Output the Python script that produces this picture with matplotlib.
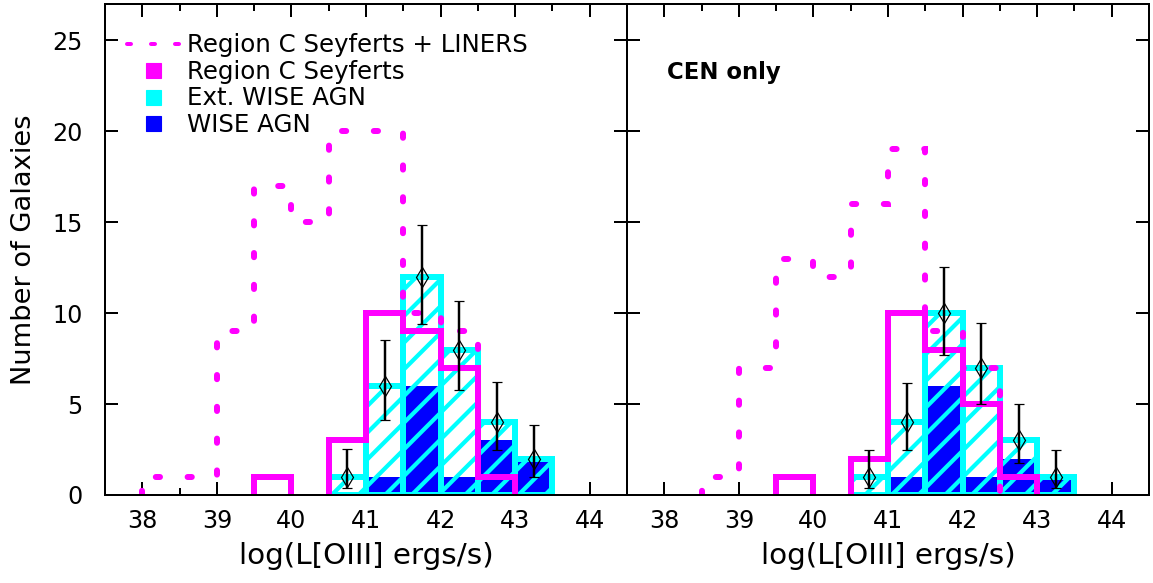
import numpy as np
import matplotlib
matplotlib.use("Agg")
import matplotlib.pyplot as plt
from matplotlib.lines import Line2D
from matplotlib.ticker import MultipleLocator

# luminosity bins, 0.5 dex wide
edges = np.arange(38.0, 44.01, 0.5)

# all galaxies (left panel)
liners_all = [1, 1, 9, 17, 15, 20, 20, 10, 9, 0, 0, 0]
sey_all = [0, 0, 0, 1, 0, 3, 10, 9, 7, 1, 0, 0]
ext_all = [0, 0, 0, 0, 0, 1, 6, 12, 8, 4, 2, 0]
wise_all = [0, 0, 0, 0, 0, 0, 1, 6, 1, 3, 2, 0]
err_lo_all = [0, 0, 0, 0, 0, 0.63, 1.90, 2.57, 2.21, 1.52, 0.99, 0]
err_hi_all = [0, 0, 0, 0, 0, 1.53, 2.51, 2.84, 2.68, 2.23, 1.86, 0]

# centrals only (right panel)
liners_cen = [0, 1, 7, 13, 12, 16, 19, 9, 7, 0, 0, 0]
sey_cen = [0, 0, 0, 1, 0, 2, 10, 8, 5, 1, 0, 0]
ext_cen = [0, 0, 0, 0, 0, 1, 4, 10, 7, 3, 1, 0]
wise_cen = [0, 0, 0, 0, 0, 0, 1, 6, 1, 2, 1, 0]
err_lo_cen = [0, 0, 0, 0, 0, 0.60, 1.52, 2.31, 2.00, 1.25, 0.60, 0]
err_hi_cen = [0, 0, 0, 0, 0, 1.48, 2.16, 2.56, 2.45, 2.00, 1.48, 0]

legend_labels = ["Region C Seyferts + LINERS", "Region C Seyferts",
                 "Ext. WISE AGN", "WISE AGN"]

MAG = "#ff00ff"
CYAN = "#00ffff"
BLUE = "#0000ff"

plt.rcParams["font.family"] = "DejaVu Sans"
plt.rcParams["hatch.linewidth"] = 3.8
plt.rcParams["hatch.color"] = CYAN

DPI = 80
W, H = 1153, 583
fig = plt.figure(figsize=(W / DPI, H / DPI), dpi=DPI)
fig.patch.set_facecolor("white")

ax1 = fig.add_axes([105 / W, 88 / H, 522 / W, 491 / H])
ax2 = fig.add_axes([627 / W, 88 / H, 522 / W, 491 / H])


def panel(ax, liners, sey, ext, wise, lo, hi):
    liners = np.asarray(liners, float)
    sey = np.asarray(sey, float)
    ext = np.asarray(ext, float)
    wise = np.asarray(wise, float)
    lo = np.asarray(lo, float)
    hi = np.asarray(hi, float)
    left = edges[:-1]

    m = wise > 0
    ax.bar(left[m], wise[m], width=0.5, align="edge", color=BLUE, lw=0, zorder=1)
    m = ext > 0
    ax.bar(left[m], ext[m], width=0.5, align="edge", facecolor="none",
           edgecolor=CYAN, hatch="/", lw=5.4, zorder=2)

    s = ax.stairs(np.where(sey > 0, sey, np.nan), edges, fill=False,
                  edgecolor=MAG, lw=5.4, zorder=3)
    s.set_joinstyle("miter")

    d = ax.stairs(np.where(liners > 0, liners, np.nan), edges, fill=False,
                  edgecolor=MAG, lw=5.4, linestyle=(0, (0.7, 4.6)), zorder=4)
    d.set_capstyle("round")

    cen = left + 0.25
    ax.errorbar(cen[m], ext[m], yerr=[lo[m], hi[m]], fmt="d", mfc="none",
                mec="black", mew=1.1, ms=13, ecolor="black", elinewidth=2.2,
                capsize=4.8, capthick=2.2, zorder=6)

    ax.set_xlim(37.5, 44.5)
    ax.set_ylim(0, 27)
    ax.set_xticks(range(38, 45))
    ax.xaxis.set_minor_locator(MultipleLocator(0.5))
    ax.set_yticks(range(0, 26, 5))
    ax.tick_params(which="both", direction="in", top=True, right=True,
                   width=1.8, labelsize=21.5)
    ax.tick_params(which="major", length=11.7)
    ax.tick_params(which="minor", length=6.3)
    ax.tick_params(axis="x", pad=13)
    ax.tick_params(axis="y", pad=20)
    for sp in ax.spines.values():
        sp.set_linewidth(1.8)
        sp.set_zorder(10)
    ax.set_xlabel("log(L[OIII] ergs/s)", fontsize=26.5)
    ax.xaxis.set_label_coords(0.5, -0.095)
    ax.xaxis.label.set_va("top")


panel(ax1, liners_all, sey_all, ext_all, wise_all, err_lo_all, err_hi_all)
panel(ax2, liners_cen, sey_cen, ext_cen, wise_cen, err_lo_cen, err_hi_cen)

ax1.set_ylabel("Number of Galaxies", fontsize=24.5)
ax1.yaxis.set_label_coords(-0.13, 0.5)
ax2.tick_params(labelleft=False)

ax2.text(0.077, 0.861, "CEN only", transform=ax2.transAxes, fontsize=20.5,
         fontweight="bold", ha="left", va="center")

handles = [
    Line2D([], [], color=MAG, lw=3.6, ls=(0, (1, 5)), dash_capstyle="round"),
    Line2D([], [], ls="none", marker="s", ms=13.5, color=MAG),
    Line2D([], [], ls="none", marker="s", ms=13.5, color=CYAN),
    Line2D([], [], ls="none", marker="s", ms=13.5, color=BLUE),
]
ax1.legend(handles, legend_labels, loc="upper left", bbox_to_anchor=(0.042, 0.94),
           frameon=False, fontsize=22, handlelength=2.15, handletextpad=0.3,
           labelspacing=0.1, borderpad=0, borderaxespad=0)

fig.savefig("out.png", dpi=DPI)
